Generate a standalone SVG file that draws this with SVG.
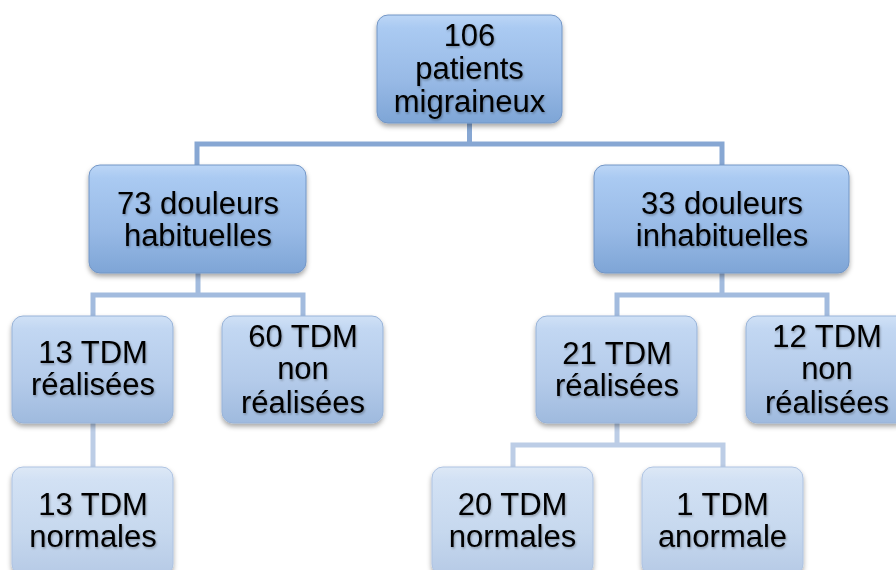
<svg xmlns="http://www.w3.org/2000/svg" width="896" height="570" viewBox="0 0 896 570">
<defs>
  <linearGradient id="g1" x1="0" y1="0" x2="0" y2="1">
    <stop offset="0" stop-color="#bcd6f6"/>
    <stop offset="0.12" stop-color="#aacaf2"/>
    <stop offset="0.6" stop-color="#98bae6"/>
    <stop offset="1" stop-color="#7ea5d6"/>
  </linearGradient>
  <linearGradient id="g3" x1="0" y1="0" x2="0" y2="1">
    <stop offset="0" stop-color="#d0e1f6"/>
    <stop offset="0.12" stop-color="#c2d7f2"/>
    <stop offset="0.6" stop-color="#b4cbea"/>
    <stop offset="1" stop-color="#9fbade"/>
  </linearGradient>
  <linearGradient id="g4" x1="0" y1="0" x2="0" y2="1">
    <stop offset="0" stop-color="#dde8f6"/>
    <stop offset="0.12" stop-color="#d2e1f4"/>
    <stop offset="0.6" stop-color="#c6d8ee"/>
    <stop offset="1" stop-color="#b6cae6"/>
  </linearGradient>
  <filter id="sh" x="-10%" y="-10%" width="125%" height="135%">
    <feDropShadow dx="0" dy="3" stdDeviation="2.5" flood-color="#000" flood-opacity="0.35"/>
  </filter>
  <filter id="ts" x="-5%" y="-5%" width="115%" height="125%">
    <feDropShadow dx="1" dy="1.5" stdDeviation="1" flood-color="#000" flood-opacity="0.3"/>
  </filter>
</defs>
<style>
  .b1 { fill: url(#g1); stroke: #7396c6; stroke-width: 1; filter: url(#sh); }
  .b3 { fill: url(#g3); stroke: #98b3d8; stroke-width: 1; filter: url(#sh); }
  .b4 { fill: url(#g4); stroke: #aec3e2; stroke-width: 1; filter: url(#sh); }
  text { font-family: "Liberation Sans", Arial, sans-serif; font-size: 31px; fill: #000; text-anchor: middle; filter: url(#ts); }
  .c1 { fill: none; stroke: #87a7d3; stroke-width: 5; }
  .c2 { fill: none; stroke: #a2bbde; stroke-width: 5; }
  .c3 { fill: none; stroke: #bccde6; stroke-width: 5; }
</style>
<g id="connectors">
  <path class="c1" d="M469.5 123 V144 M197 165 V144 H722 V165"/>
  <path class="c2" d="M198 273 V295 M93 316 V295 H303 V316"/>
  <path class="c2" d="M722 273 V295 M617 316 V295 H827 V316"/>
  <path class="c3" d="M93 423 V467"/>
  <path class="c3" d="M617 423 V445 M513 467 V445 H723 V467"/>
</g>
<g id="n-root">
  <rect class="b1" x="377" y="15" width="185" height="108" rx="11"/>
  <text x="469.5" y="46">106</text>
  <text x="469.5" y="79">patients</text>
  <text x="469.5" y="112">migraineux</text>
</g>
<g id="n-habituelles">
  <rect class="b1" x="89" y="165" width="217" height="108" rx="11"/>
  <text x="198" y="214">73 douleurs</text>
  <text x="198" y="246">habituelles</text>
</g>
<g id="n-inhabituelles">
  <rect class="b1" x="594" y="165" width="255" height="108" rx="11"/>
  <text x="722" y="214">33 douleurs</text>
  <text x="722" y="246">inhabituelles</text>
</g>
<g id="n-13-realisees">
  <rect class="b3" x="12" y="316" width="161" height="107" rx="11"/>
  <text x="93" y="363">13 TDM</text>
  <text x="93" y="395">réalisées</text>
</g>
<g id="n-60-non">
  <rect class="b3" x="222" y="316" width="161" height="107" rx="11"/>
  <text x="303" y="347">60 TDM</text>
  <text x="303" y="379">non</text>
  <text x="303" y="413">réalisées</text>
</g>
<g id="n-21-realisees">
  <rect class="b3" x="536" y="316" width="161" height="107" rx="11"/>
  <text x="617" y="364">21 TDM</text>
  <text x="617" y="396">réalisées</text>
</g>
<g id="n-12-non">
  <rect class="b3" x="746" y="316" width="161" height="107" rx="11"/>
  <text x="827" y="347">12 TDM</text>
  <text x="827" y="379">non</text>
  <text x="827" y="413">réalisées</text>
</g>
<g id="n-13-normales">
  <rect class="b4" x="12" y="467" width="161" height="108" rx="11"/>
  <text x="93" y="515">13 TDM</text>
  <text x="93" y="547">normales</text>
</g>
<g id="n-20-normales">
  <rect class="b4" x="432" y="467" width="161" height="108" rx="11"/>
  <text x="512.5" y="515">20 TDM</text>
  <text x="512.5" y="547">normales</text>
</g>
<g id="n-1-anormale">
  <rect class="b4" x="642" y="467" width="161" height="108" rx="11"/>
  <text x="722.5" y="515">1 TDM</text>
  <text x="722.5" y="547">anormale</text>
</g>
</svg>
